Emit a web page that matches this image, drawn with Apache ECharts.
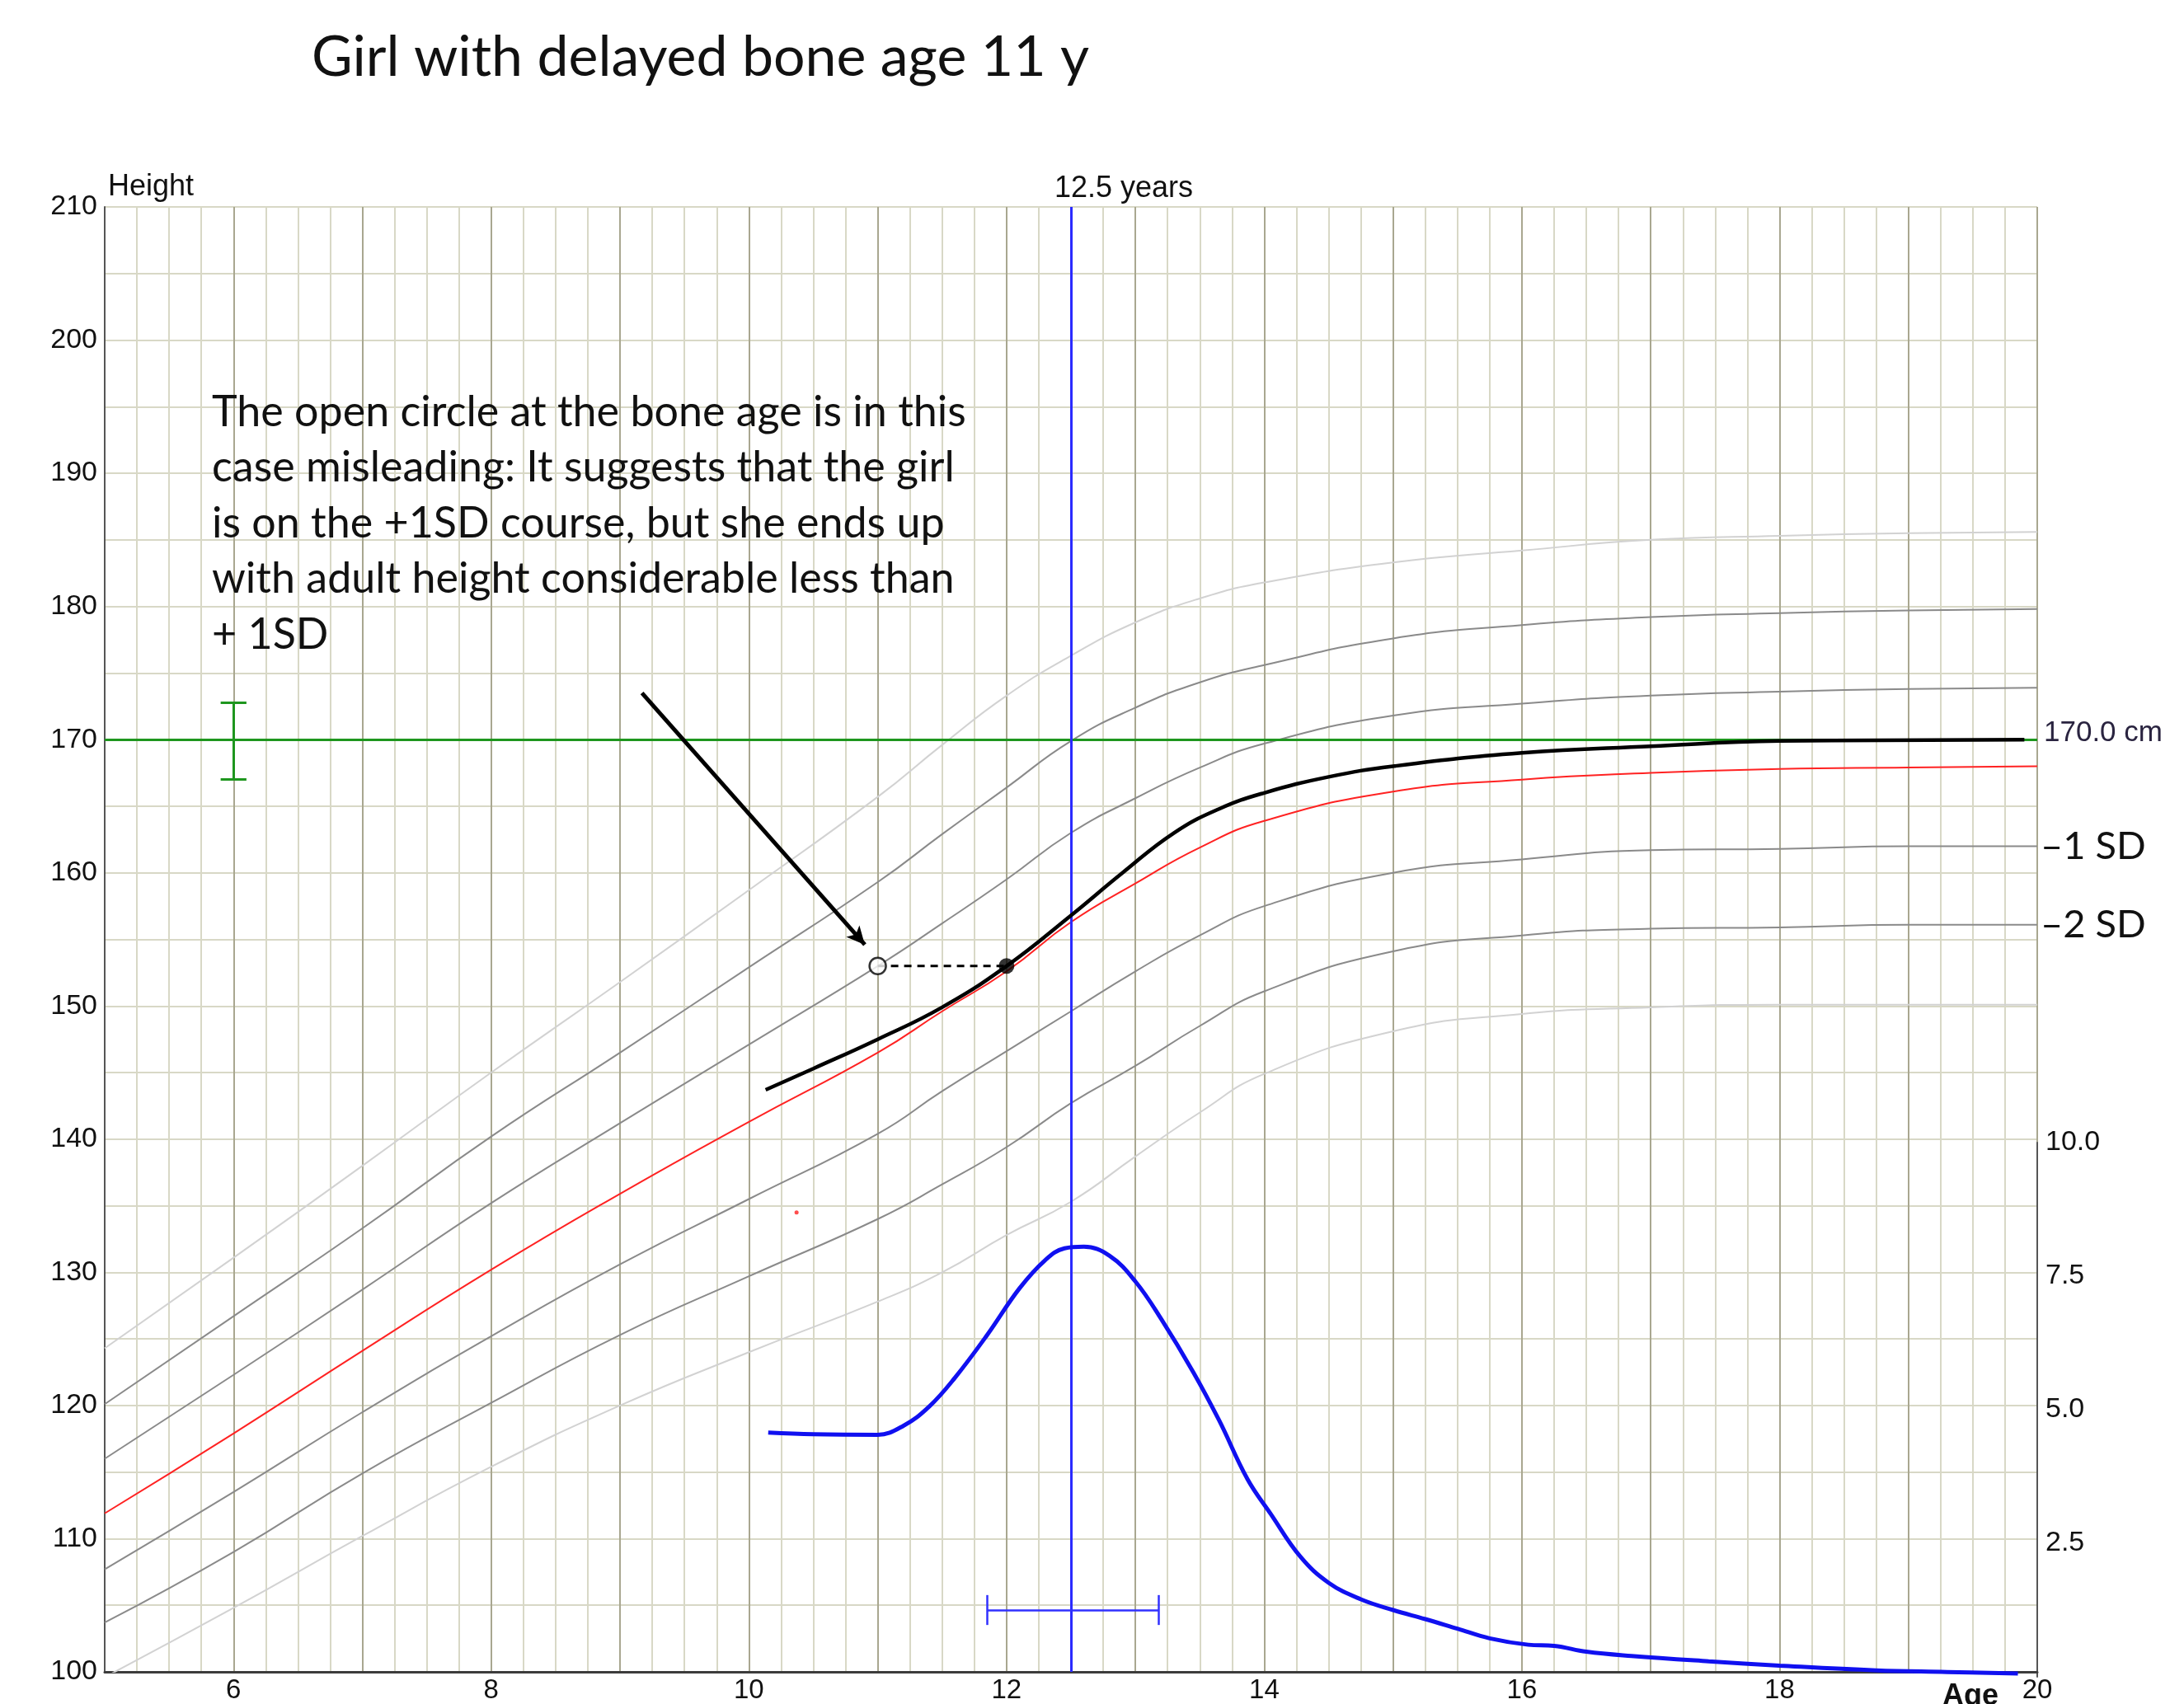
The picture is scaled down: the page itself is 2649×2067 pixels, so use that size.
<!DOCTYPE html>
<html>
<head>
<meta charset="utf-8">
<script src="https://cdn.jsdelivr.net/npm/echarts@6/dist/echarts.min.js"></script>
<style>
  html, body { margin: 0; padding: 0; background: #fff; }
  #main { width: 2649px; height: 2067px; }
</style>
</head>
<body>
<div id="main"></div>
<script>
// reference curves (age in years, height in cm)
const ages = [5, 6, 7, 8, 9, 10, 11, 11.5, 12, 12.5, 13, 13.5, 14, 15, 16, 17, 18, 19, 20];
const plus3 = [124.3, 131.1, 138.0, 145.0, 151.8, 158.7, 165.7, 169.6, 173.3, 176.3, 178.8, 180.6, 181.8, 183.3, 184.2, 185.0, 185.3, 185.5, 185.6];
const plus2 = [120.1, 126.7, 133.3, 140.2, 146.5, 152.9, 159.3, 162.9, 166.4, 169.9, 172.4, 174.3, 175.6, 177.6, 178.6, 179.2, 179.5, 179.7, 179.8];
const plus1 = [116.0, 122.3, 128.7, 135.2, 141.2, 147.1, 153.0, 156.2, 159.5, 163.0, 165.6, 167.9, 169.7, 171.8, 172.7, 173.3, 173.6, 173.8, 173.9];
const meanH = [111.9, 117.9, 124.1, 130.2, 135.9, 141.3, 146.5, 149.6, 152.6, 156.3, 159.2, 161.9, 163.9, 166.1, 167.0, 167.5, 167.8, 167.9, 168.0];
const minus1 = [107.7, 113.5, 119.5, 125.2, 130.6, 135.5, 140.4, 143.6, 146.6, 149.6, 152.6, 155.3, 157.5, 160.0, 161.0, 161.7, 161.8, 162.0, 162.0];
const minus2 = [103.7, 109.0, 114.9, 120.2, 125.3, 129.7, 134.0, 136.6, 139.4, 142.7, 145.5, 148.5, 151.1, 154.1, 155.3, 155.8, 155.9, 156.1, 156.1];
const minus3 = [99.6, 104.8, 110.2, 115.4, 120.0, 124.0, 127.8, 130.0, 132.8, 135.3, 138.7, 142.0, 144.9, 148.1, 149.4, 149.9, 150.1, 150.1, 150.1];

// the girl
const patientAge = [10.13, 10.5, 11, 11.5, 12, 12.5, 12.9, 13.3, 13.65, 14, 14.5, 15, 16, 17, 18, 19.9];
const patientH = [143.7, 145.3, 147.5, 149.9, 153.0, 156.8, 160.0, 163.0, 164.8, 166.0, 167.2, 168.0, 169.0, 169.5, 169.9, 170.0];
const boneAgePoint = [11, 153.0];
const measuredPoint = [12, 153.0];
const strayDot = [10.37, 134.5];

// height velocity (cm/year)
const velAge = [10.15, 10.5, 11.0, 11.2, 11.4, 11.6, 11.85, 12.1, 12.3, 12.45, 12.6, 12.8, 13.0, 13.2, 13.45, 13.65, 13.87, 14.05, 14.28, 14.5, 14.75, 15.0, 15.25, 15.5, 15.75, 16.05, 16.25, 16.5, 16.85, 17.45, 18.0, 18.75, 19.3, 19.85];
const vel = [4.57, 4.54, 4.53, 4.70, 5.06, 5.6, 6.4, 7.27, 7.8, 8.02, 8.05, 7.88, 7.4, 6.7, 5.7, 4.8, 3.7, 3.05, 2.25, 1.76, 1.45, 1.25, 1.08, 0.9, 0.72, 0.6, 0.58, 0.47, 0.39, 0.29, 0.21, 0.12, 0.09, 0.06];

// target height and peak velocity age
const targetHeight = 170;
const targetRange = [167.0, 172.8];
const targetAge = 6;
const pvAge = 12.5;
const pvRange = [11.85, 13.18];
const pvBarLevel = 1.25;
const arrowFrom = [9.17, 173.5];
const arrowTo = [10.9, 154.6];

const heightTicks = [100, 210];
const velTicks = [0, 10];

const axisFont = 'Liberation Sans, Arial, sans-serif';
const textFont = 'Lato, sans-serif';

function zip(xs, ys) {
    return xs.map((x, i) => [x, ys[i]]);
}

function sdLine(name, vals, color, width, endText) {
    let s = {
        name: name,
        type: 'line',
        data: zip(ages, vals),
        smooth: 0.5,
        symbol: 'none',
        lineStyle: { color: color, width: width },
        z: 3
    };
    if (endText) {
        s.endLabel = {
            show: true,
            formatter: endText,
            distance: 4,
            fontFamily: textFont,
            fontSize: 47,
            color: '#111'
        };
    }
    return s;
}

const chart = echarts.init(document.getElementById('main'));

const option = {
    animation: false,
    backgroundColor: '#fff',
    grid: [
        { left: 127, right: 178, top: 251, bottom: 33 },
        { left: 127, right: 178, top: 1386, bottom: 33 }
    ],
    xAxis: [
        {
            type: 'value', gridIndex: 0, min: 5, max: 20, interval: 1,
            axisLine: { show: true, onZero: false, lineStyle: { color: '#3c3c3c', width: 3 } },
            axisTick: { show: false },
            axisLabel: {
                margin: 6, fontFamily: axisFont, fontSize: 33, color: '#111',
                formatter: v => (v % 2 === 0 ? String(v) : '')
            },
            splitLine: { show: true, lineStyle: { color: '#a9a790', width: 2 } },
            minorTick: { show: false, splitNumber: 4 },
            minorSplitLine: { show: true, lineStyle: { color: '#d8d8c6', width: 2 } }
        },
        { type: 'value', gridIndex: 1, min: 5, max: 20, show: false }
    ],
    yAxis: [
        {
            type: 'value', gridIndex: 0, min: heightTicks[0], max: heightTicks[1], interval: 10,
            name: 'Height', nameLocation: 'end', nameGap: 6,
            nameTextStyle: { align: 'left', verticalAlign: 'bottom', fontFamily: axisFont, fontSize: 36, color: '#111', padding: [0, 0, 0, 4] },
            axisLine: { show: true, lineStyle: { color: '#555', width: 2 } },
            axisTick: { show: false },
            axisLabel: { margin: 9, fontFamily: axisFont, fontSize: 34, color: '#111' },
            splitLine: { show: true, lineStyle: { color: '#d8d8c6', width: 2 } },
            minorTick: { show: false, splitNumber: 2 },
            minorSplitLine: { show: true, lineStyle: { color: '#d8d8c6', width: 2 } }
        },
        {
            type: 'value', gridIndex: 1, position: 'right', min: velTicks[0], max: velTicks[1], interval: 2.5,
            axisLine: { show: true, lineStyle: { color: '#555', width: 2 } },
            axisTick: { show: false },
            axisLabel: {
                margin: 10, fontFamily: axisFont, fontSize: 34, color: '#111',
                formatter: v => (v === 0 ? '' : v.toFixed(1))
            },
            splitLine: { show: false }
        }
    ],
    series: [
        sdLine('+3 SD', plus3, '#d2d2d2', 2),
        sdLine('+2 SD', plus2, '#8a8a8a', 2),
        sdLine('+1 SD', plus1, '#8a8a8a', 2),
        sdLine('mean', meanH, '#ff2222', 2),
        sdLine('-1 SD', minus1, '#8a8a8a', 2, '\u20131 SD'),
        sdLine('-2 SD', minus2, '#8a8a8a', 2, '\u20132 SD'),
        sdLine('-3 SD', minus3, '#d2d2d2', 2),
        {
            name: 'target',
            type: 'line',
            data: [],
            markLine: {
                silent: true,
                symbol: 'none',
                lineStyle: { color: '#1e961e', width: 3, type: 'solid' },
                label: { show: false },
                data: [
                    {
                        yAxis: targetHeight,
                        label: {
                            show: true, position: 'end', distance: 8, formatter: '170.0 cm',
                            fontFamily: axisFont, fontSize: 35, color: '#2a2440', offset: [0, -8]
                        }
                    },
                    [{ coord: [targetAge, targetRange[0]] }, { coord: [targetAge, targetRange[1]] }],
                    [{ coord: [targetAge - 0.1, targetRange[0]] }, { coord: [targetAge + 0.1, targetRange[0]] }],
                    [{ coord: [targetAge - 0.1, targetRange[1]] }, { coord: [targetAge + 0.1, targetRange[1]] }]
                ]
            },
            z: 4
        },
        {
            name: 'peak',
            type: 'line',
            data: [],
            markLine: {
                silent: true,
                symbol: 'none',
                label: { show: false },
                lineStyle: { color: '#2b2bff', width: 3, type: 'solid' },
                data: [{ xAxis: pvAge }]
            },
            z: 5
        },
        {
            name: 'arrow',
            type: 'line',
            data: [],
            markLine: {
                silent: true,
                symbol: ['none', 'arrow'],
                symbolSize: [16, 22],
                label: { show: false },
                lineStyle: { color: '#000', width: 5, type: 'solid' },
                data: [[{ coord: arrowFrom }, { coord: arrowTo }]]
            },
            z: 6
        },
        {
            name: 'girl',
            type: 'line',
            data: zip(patientAge, patientH),
            smooth: 0.45,
            symbol: 'none',
            lineStyle: { color: '#000', width: 4.5 },
            z: 6
        },
        {
            name: 'bone age link',
            type: 'line',
            data: [boneAgePoint, measuredPoint],
            symbol: 'none',
            lineStyle: { color: '#000', width: 3, type: [9, 7] },
            z: 6
        },
        {
            name: 'bone age',
            type: 'scatter',
            data: [boneAgePoint],
            symbol: 'circle',
            symbolSize: 20,
            itemStyle: { color: '#fff', borderColor: '#000', borderWidth: 2.5 },
            z: 7
        },
        {
            name: 'measured',
            type: 'scatter',
            data: [measuredPoint],
            symbol: 'circle',
            symbolSize: 19,
            itemStyle: { color: '#000' },
            z: 7
        },
        {
            name: 'stray',
            type: 'scatter',
            data: [strayDot],
            symbolSize: 5,
            itemStyle: { color: '#ff2020' },
            z: 4
        },
        {
            name: 'velocity',
            type: 'line',
            xAxisIndex: 1,
            yAxisIndex: 1,
            data: zip(velAge, vel),
            smooth: 0.4,
            symbol: 'none',
            lineStyle: { color: '#1010f0', width: 5 },
            markLine: {
                silent: true,
                symbol: 'none',
                label: { show: false },
                lineStyle: { color: '#3030ff', width: 2.5, type: 'solid' },
                data: [
                    [{ coord: [pvRange[0], pvBarLevel] }, { coord: [pvRange[1], pvBarLevel] }],
                    [{ coord: [pvRange[0], pvBarLevel - 0.28] }, { coord: [pvRange[0], pvBarLevel + 0.28] }],
                    [{ coord: [pvRange[1], pvBarLevel - 0.28] }, { coord: [pvRange[1], pvBarLevel + 0.28] }]
                ]
            },
            z: 5
        }
    ]
};

chart.setOption(option);

// texts placed from the axes
const peakTop = chart.convertToPixel({ gridIndex: 0 }, [pvAge, heightTicks[1]]);
const ageEnd = chart.convertToPixel({ gridIndex: 0 }, [20, heightTicks[0]]);

chart.setOption({
    graphic: [
        {
            type: 'text', left: 378, top: 36,
            style: { text: 'Girl with delayed bone age 11 y', font: '68px Lato, sans-serif', fill: '#111' }
        },
        {
            type: 'text', left: 257, top: 466,
            style: {
                text: 'The open circle at the bone age is in this\n' +
                      'case misleading: It suggests that the girl\n' +
                      'is on the +1SD course, but she ends up\n' +
                      'with adult height considerable less than\n' +
                      '+ 1SD',
                font: '52px Lato, sans-serif', lineHeight: 67.5, fill: '#111'
            },
            z: 10
        },
        {
            type: 'text', x: peakTop[0] - 20, y: peakTop[1] - 4,
            style: { text: '12.5 years', font: '36px Liberation Sans, Arial, sans-serif', fill: '#111', verticalAlign: 'bottom' }
        },
        {
            type: 'text', x: ageEnd[0] - 115, y: ageEnd[1] + 12,
            style: { text: 'Age', font: 'bold 36px Liberation Sans, Arial, sans-serif', fill: '#111', verticalAlign: 'top' }
        }
    ]
});
</script>
</body>
</html>
